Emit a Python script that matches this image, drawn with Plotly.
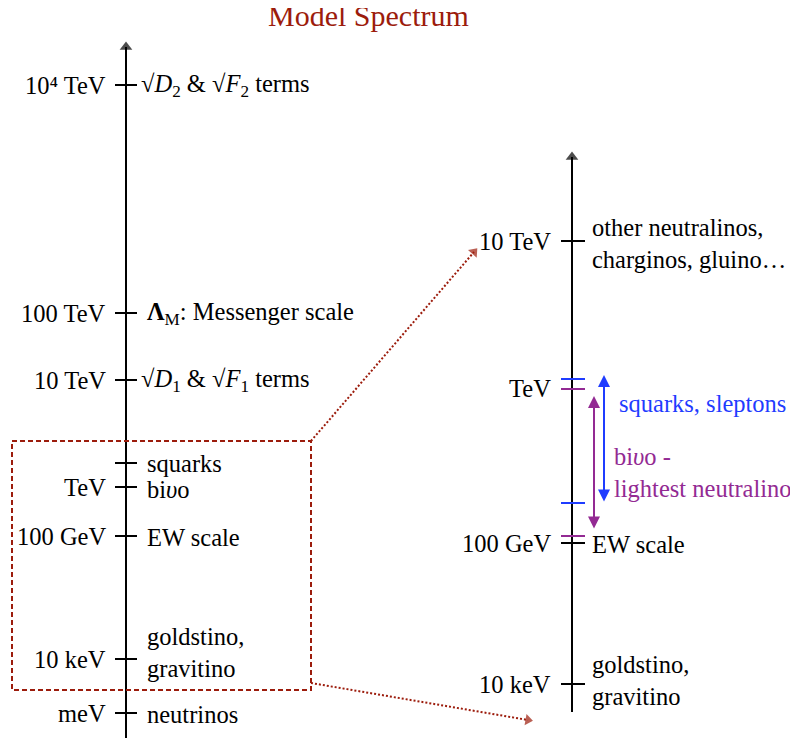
import plotly.graph_objects as go

# ---------------- data ----------------
# Left (full) spectrum: schematic level heights (diagram units, top = 0)
left_scale = ["10⁴ TeV", "100 TeV", "10 TeV", "", "TeV", "100 GeV", "10 keV", "meV"]
left_level = [85, 313, 380, 463, 487, 536, 659, 713]
left_desc = ["√<i>D</i><sub>2</sub> & √<i>F</i><sub>2</sub> terms",
             "<b>Λ</b><sub>M</sub>: Messenger scale",
             "√<i>D</i><sub>1</sub> & √<i>F</i><sub>1</sub> terms",
             "squarks", "bi<i>υ</i>o", "EW scale",
             "goldstino,<br>gravitino", "neutrinos"]
left_desc_level = [85, 313, 380, 463, 489, 537, 652, 714]

# Right (zoomed) spectrum
right_scale = ["10 TeV", "TeV", "100 GeV", "10 keV"]
right_scale_level = [241, 388, 543, 684]
right_desc = ["other neutralinos,<br>charginos, gluino…", "EW scale", "goldstino,<br>gravitino"]
right_desc_level = [243, 544, 680]
right_ticks_black = [241, 543, 684]
squark_range = [379, 503]
bino_range = [389, 536]

title = "Model Spectrum"

# ---------------- style ----------------
FONT = "Liberation Serif"
FS = 24.5
BLACK = "#000000"
RED = "#9c1c0c"
BLUE = "#1f3cff"
PURPLE = "#932a93"

LX, RX = 126, 572
fig = go.Figure()

def seg(x0, y0, x1, y1, color, width=2, dash=None):
    fig.add_trace(go.Scatter(x=[x0, x1], y=[y0, y1], mode="lines",
                             line=dict(color=color, width=width, dash=dash),
                             hoverinfo="skip", showlegend=False))

def arrow_line(x0, y0, x1, y1, color, width=2, dash=None, size=11):
    fig.add_trace(go.Scatter(x=[x0, x1], y=[y0, y1], mode="lines+markers",
                             line=dict(color=color, width=width, dash=dash),
                             marker=dict(symbol="triangle-up", size=[0, size], color=color,
                                         angleref="previous", line=dict(width=0)),
                             hoverinfo="skip", showlegend=False))

# axes
arrow_line(LX, 745, LX, 47, BLACK, 2, size=11)
arrow_line(RX, 712, RX, 157, BLACK, 2, size=11)

# left ticks and labels
for lab, yv in zip(left_scale, left_level):
    seg(LX - 11, yv, LX + 11, yv, BLACK, 2)
    if lab:
        fig.add_annotation(x=108, y=yv, text=lab, showarrow=False, xanchor="right",
                           yanchor="middle", font=dict(family=FONT, size=FS, color=BLACK))
for i, (lab, yv) in enumerate(zip(left_desc, left_desc_level)):
    xs = 139 if "√" in lab else 145
    fig.add_annotation(x=xs, y=yv, text=lab, showarrow=False, xanchor="left", align="left",
                       yanchor="middle", font=dict(family=FONT, size=FS, color=BLACK))

# right ticks and labels
for yv in right_ticks_black:
    seg(RX - 11, yv, RX + 13, yv, BLACK, 2)
for yv in squark_range:
    seg(RX - 11, yv, RX + 13, yv, BLUE, 2)
for yv in bino_range:
    seg(RX - 11, yv, RX + 13, yv, PURPLE, 2)
for lab, yv in zip(right_scale, right_scale_level):
    fig.add_annotation(x=553, y=yv, text=lab, showarrow=False, xanchor="right",
                       yanchor="middle", font=dict(family=FONT, size=FS, color=BLACK))
for lab, yv in zip(right_desc, right_desc_level):
    fig.add_annotation(x=590, y=yv, text=lab, showarrow=False, xanchor="left", align="left",
                       yanchor="middle", font=dict(family=FONT, size=FS, color=BLACK))

# range arrows
fig.add_annotation(x=604, y=squark_range[0] - 4, ax=604, ay=squark_range[1], axref="x", ayref="y",
                   xref="x", yref="y", showarrow=True, arrowside="end+start", arrowhead=2,
                   arrowsize=1.2, arrowwidth=2, arrowcolor=BLUE, text="")
fig.add_annotation(x=594, y=bino_range[0] + 7, ax=594, ay=bino_range[1] - 6, axref="x", ayref="y",
                   xref="x", yref="y", showarrow=True, arrowside="end+start", arrowhead=2,
                   arrowsize=1.2, arrowwidth=2, arrowcolor=PURPLE, text="")
fig.add_annotation(x=617, y=403, text="squarks, sleptons", showarrow=False, xanchor="left",
                   yanchor="middle", font=dict(family=FONT, size=FS, color=BLUE))
fig.add_annotation(x=612, y=472, text="bi<i>υ</i>o -<br>lightest neutralino", showarrow=False,
                   xanchor="left", align="left", yanchor="middle",
                   font=dict(family=FONT, size=FS, color=PURPLE))

# zoom box and connectors
fig.add_trace(go.Scatter(x=[12, 311, 311, 12, 12], y=[441, 441, 690, 690, 441], mode="lines",
                         line=dict(color=RED, width=2, dash="5px,3px"),
                         hoverinfo="skip", showlegend=False))
arrow_line(311, 441, 474, 252, RED, 2, dash="2px,2px", size=10)
arrow_line(311, 683, 528, 720, RED, 2, dash="2px,2px", size=10)

# title
fig.add_annotation(x=368, y=15, text=title, showarrow=False, xanchor="center", yanchor="middle",
                   font=dict(family=FONT, size=30, color=RED))

# the page adds an 8px body margin: map data units straight to page pixels
fig.update_xaxes(range=[8, 798], visible=False, fixedrange=True)
fig.update_yaxes(range=[738, 8], visible=False, fixedrange=True)
fig.update_layout(width=790, height=730, autosize=False,
                  margin=dict(l=0, r=0, t=0, b=0),
                  paper_bgcolor="white", plot_bgcolor="white")

fig.write_html("out.html")
